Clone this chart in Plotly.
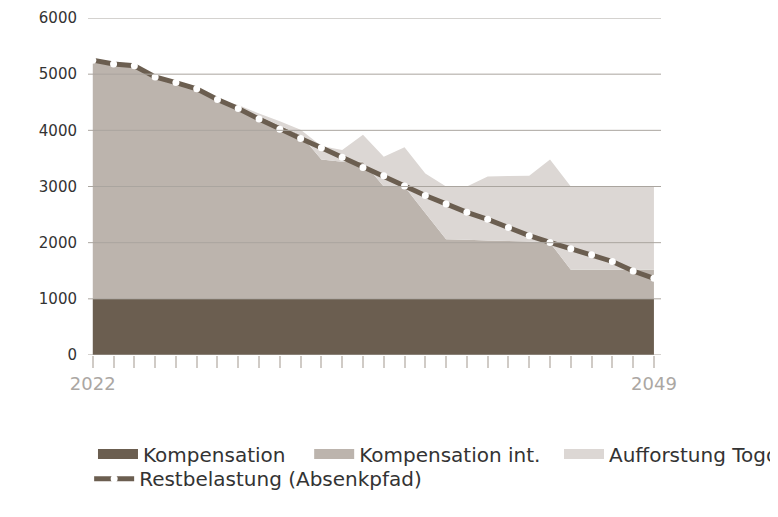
import plotly.graph_objects as go

years = [2022, 2023, 2024, 2025, 2026, 2027, 2028, 2029, 2030, 2031,
         2032, 2033, 2034, 2035, 2036, 2037, 2038, 2039, 2040, 2041,
         2042, 2043, 2044, 2045, 2046, 2047, 2048, 2049]

kompensation = [1000, 1000, 1000, 1000, 1000, 1000, 1000, 1000, 1000, 1000,
                1000, 1000, 1000, 1000, 1000, 1000, 1000, 1000, 1000, 1000,
                1000, 1000, 1000, 1000, 1000, 1000, 1000, 1000]

kompensation_int = [4220, 4150, 4130, 3920, 3850, 3730, 3540, 3420, 3250, 3080,
                    2920, 2480, 2440, 2440, 2000, 2000, 1530, 1060, 1050, 1040,
                    1030, 1020, 1000, 520, 520, 520, 520, 520]

aufforstung_togo = [0, 0, 0, 0, 0, 0, 0, 30, 50, 80,
                    90, 240, 210, 480, 530, 700, 700, 940, 950, 1140,
                    1155, 1170, 1480, 1480, 1480, 1480, 1480, 1480]

restbelastung = [5250, 5180, 5150, 4950, 4850, 4740, 4550, 4390, 4200, 4020,
                 3855, 3690, 3520, 3340, 3190, 3010, 2840, 2690, 2540, 2415,
                 2270, 2125, 2005, 1890, 1785, 1665, 1495, 1365]

y_ticks = [0, 1000, 2000, 3000, 4000, 5000, 6000]
x_labels = ["2022"] + [""] * 26 + ["2049"]

C_DARK = "#6b5e50"
C_MID = "#bcb4ad"
C_LIGHT = "#dcd7d4"
FONT = "DejaVu Sans"

fig = go.Figure()

series = [
    ("Kompensation", kompensation, C_DARK, "legend"),
    ("Kompensation int.", kompensation_int, C_MID, "legend2"),
    ("Aufforstung Togo", aufforstung_togo, C_LIGHT, "legend3"),
]
for name, vals, col, lg in series:
    fig.add_trace(go.Scatter(
        x=years, y=vals, name=name, mode="none", stackgroup="one",
        fillcolor=col, showlegend=False, hoverinfo="x+y+name",
    ))

fig.add_trace(go.Scatter(
    x=years, y=restbelastung, name="Restbelastung (Absenkpfad)",
    mode="lines+markers",
    line=dict(color=C_DARK, width=5),
    marker=dict(color="white", size=7, line=dict(width=0)),
    legend="legend4",
))

# legend-only swatches
for name, vals, col, lg in series:
    fig.add_trace(go.Scatter(
        x=[None], y=[None], name=name, mode="lines",
        line=dict(color=col, width=15), legend=lg, hoverinfo="skip",
    ))

# gridlines drawn above the filled areas
for v in y_ticks:
    fig.add_shape(type="line", xref="paper", x0=0, x1=1, yref="y", y0=v, y1=v,
                  line=dict(color="#aaa59f", width=1), layer="above")

def leg(xp, yp):
    return dict(orientation="h", x=xp, y=yp, xanchor="left", yanchor="middle",
                font=dict(family=FONT, size=20, color="#333333"),
                bgcolor="rgba(0,0,0,0)", itemwidth=40, tracegroupgap=0)

fig.update_layout(
    width=778, height=517,
    margin=dict(l=80, r=125, t=10, b=170, autoexpand=False),
    paper_bgcolor="white", plot_bgcolor="white",
    font=dict(family=FONT, color="#333333"),
    xaxis=dict(range=[2021.77, 2049.34], tickvals=years, ticktext=x_labels,
               ticks="outside", ticklen=12, tickcolor="#d0cbc6", tickwidth=1.5,
               showgrid=False, zeroline=False, showline=False,
               tickfont=dict(family=FONT, size=18, color="#aba7a3")),
    yaxis=dict(range=[0, 6000], tickvals=y_ticks, showgrid=False, zeroline=False,
               showline=False, ticklabelstandoff=10,
               tickfont=dict(family=FONT, size=15, color="#333333")),
    legend=leg(0.0087, -0.294),
    legend2=leg(0.386, -0.294),
    legend3=leg(0.822, -0.294),
    legend4=leg(0.002, -0.367),
    showlegend=True,
)

fig.write_html("out.html")
